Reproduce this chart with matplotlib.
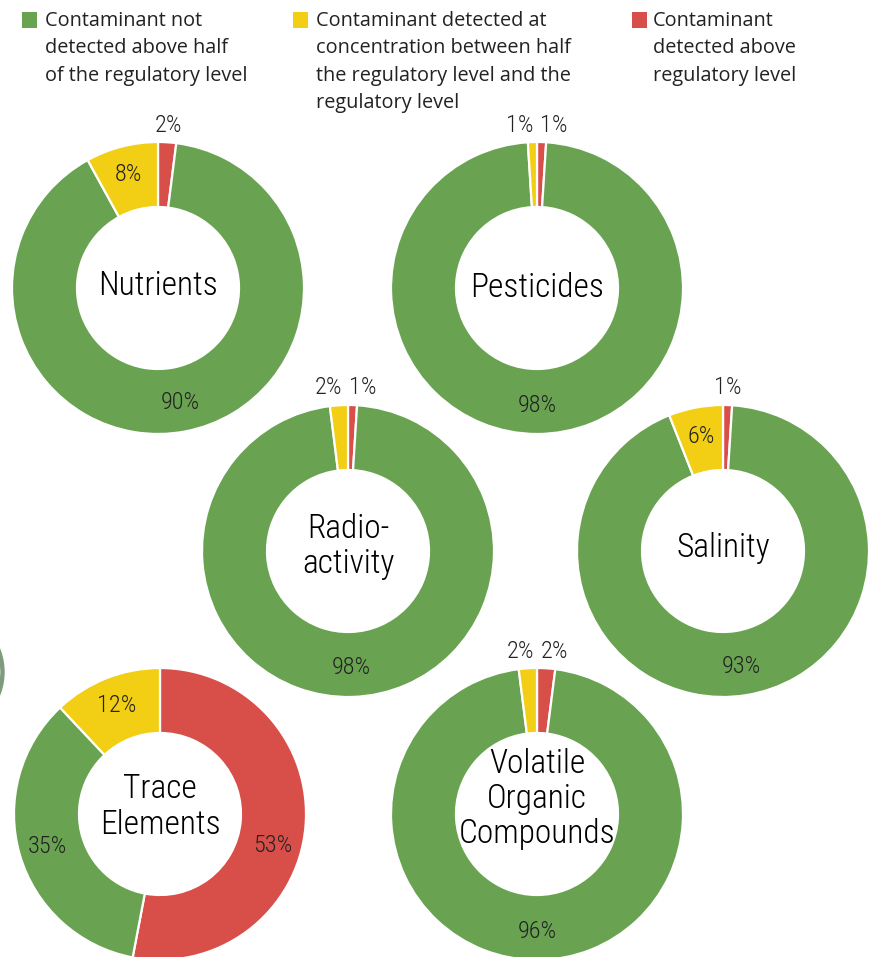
import matplotlib
matplotlib.use("Agg")
import matplotlib.pyplot as plt
from matplotlib import font_manager as fm
from matplotlib.patches import Rectangle, Wedge
import numpy as np

# ---------------- data ----------------
categories = ["Nutrients", "Pesticides", "Radio-\nactivity", "Salinity",
              "Trace\nElements", "Volatile\nOrganic\nCompounds"]
not_detected = [90, 98, 98, 93, 35, 96]      # green
between_half = [8, 1, 2, 6, 12, 2]           # yellow
above_level = [2, 1, 1, 1, 53, 2]            # red

legend_labels = ["Contaminant not\ndetected above half\nof the regulatory level",
                 "Contaminant detected at\nconcentration between half\nthe regulatory level and the\nregulatory level",
                 "Contaminant\ndetected above\nregulatory level"]

# ---------------- style ----------------
GREEN = "#69A351"
YELLOW = "#F2CF15"
RED = "#D84F4A"
TXT = "#222222"

W, H = 877, 957

def _w(f):
    w = f.weight
    if isinstance(w, str):
        w = {"light": 300, "normal": 400, "regular": 400, "book": 400}.get(w.lower(), 400)
    return w

def pick_condensed():
    fl = fm.fontManager.ttflist
    cands = []
    for f in fl:
        nm = f.name
        isc = ("Condensed" in nm or "Narrow" in nm or
               f.stretch in ("condensed", "semi-condensed", 75, 87.5))
        if not isc or f.style != "normal":
            continue
        w = _w(f)
        if w < 300 or w > 400:
            continue
        score = 0
        if "Roboto" in nm:
            score += 10
        if w == 300:
            score += 5
        cands.append((score, f.fname))
    if cands:
        cands.sort(reverse=True)
        return cands[0][1]
    return None

cond_path = pick_condensed()

def cfont(size):
    if cond_path:
        return fm.FontProperties(fname=cond_path, size=size)
    return fm.FontProperties(family="DejaVu Sans", stretch="condensed", size=size)

fig = plt.figure(figsize=(W / 100, H / 100), dpi=100)
ax = fig.add_axes([0, 0, 1, 1])

def Y(y):
    return H - y

# layout (pixel centres of each donut)
centers = [(158, 288), (537, 288), (348, 551), (723, 551), (160, 814), (537, 814)]
label_dy = [2, 0, 4, 3, 7, 15]
R_OUT = 146
RING = 65
R_LAB = 117

for i, cat in enumerate(categories):
    cx, cy = centers[i]
    vals = [above_level[i], not_detected[i], between_half[i]]
    cols = [RED, GREEN, YELLOW]
    wedges, _ = ax.pie(vals, colors=cols, startangle=90, counterclock=False,
                       radius=R_OUT, center=(cx, Y(cy)),
                       wedgeprops=dict(width=RING, edgecolor="white", linewidth=1.6))
    tot = float(sum(vals))
    outside = []
    for w, v in zip(wedges, vals):
        mid = (w.theta1 + w.theta2) / 2
        if v / tot < 0.03:
            rr = R_OUT + 18
            outside.append([cx + rr * np.cos(np.deg2rad(mid)), Y(cy) + R_OUT + 17, v])
        else:
            if v / tot > 0.5 and v / tot < 0.8:
                mid -= 10  # best-fit shift for the large half slice
            m = np.deg2rad(mid)
            ax.text(cx + R_LAB * np.cos(m), Y(cy) + R_LAB * np.sin(m), f"{v}%",
                    ha="center", va="center", color=TXT, fontproperties=cfont(17.5))
    outside.sort(key=lambda t: t[0])
    if len(outside) == 2:
        gap = outside[1][0] - outside[0][0]
        if gap < 34:
            d = (34 - gap) / 2
            outside[0][0] -= d
            outside[1][0] += d
    for x, y, v in outside:
        ax.text(x, y, f"{v}%", ha="center", va="center", color=TXT,
                fontproperties=cfont(17.5))
    ax.text(cx, Y(cy) + label_dy[i], cat, ha="center", va="center", color="black",
            fontproperties=cfont(24), linespacing=1.12)

# small partial element at left edge
ax.add_patch(Wedge((-58, Y(672)), 62, -40, 40, width=3, color="#7f9a7c"))

# ---------------- legend ----------------
leg_cols = [GREEN, YELLOW, RED]
leg_sq_x = [22, 293, 632]
leg_txt_x = [45, 316, 653]
for c, sx, tx, lab in zip(leg_cols, leg_sq_x, leg_txt_x, legend_labels):
    ax.add_patch(Rectangle((sx, Y(28)), 15, 16, color=c, lw=0))
    ax.text(tx, Y(11), lab, ha="left", va="top", color=TXT,
            family=["Open Sans", "DejaVu Sans"], fontsize=14.3, linespacing=1.49)

ax.set_xlim(0, W)
ax.set_ylim(0, H)
ax.set_aspect("auto")
ax.axis("off")
fig.savefig("out.png", dpi=100, facecolor="white")
